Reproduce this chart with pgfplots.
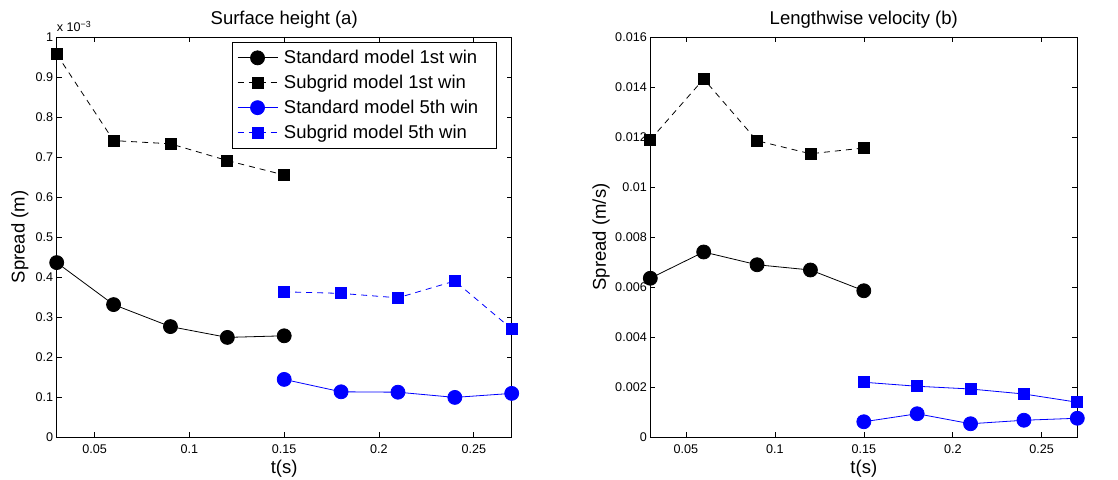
\documentclass[border=0pt]{standalone}
\usepackage{fontspec}
\setmainfont{Liberation Sans}
\usepackage{pgfplots}
\pgfplotsset{compat=1.18}
\definecolor{mblue}{RGB}{0,0,255}
\begin{document}
\begin{tikzpicture}
\path[use as bounding box] (0pt,0pt) rectangle (1118pt,479pt);
\pgfplotsset{
  mystyle/.style={
    scale only axis, height=400pt,
    xmin=0.03, xmax=0.27,
    xtick={0.05,0.1,0.15,0.2,0.25},
    xticklabels={0.05,0.1,0.15,0.2,0.25},
    tick align=inside,
    major tick length=5pt,
    tick style={black, line width=0.6pt},
    axis line style={line width=0.8pt},
    ticklabel style={font=\fontsize{12.6}{14}\selectfont},
    xticklabel style={yshift=-4pt},
    /pgf/number format/assume math mode=true,
    every axis title/.style={font=\fontsize{18.5}{22}\selectfont, at={(axis description cs:0.5,1.0425)}, anchor=center},
    scaled ticks=false,
    every axis x label/.style={at={(axis description cs:0.5,-0.08)}, anchor=center, font=\fontsize{18.5}{22}\selectfont},
    clip=false,
    every axis plot/.append style={line width=0.8pt},
    legend image code/.code={\draw[mark repeat=2,mark phase=2,##1] plot coordinates {(0pt,0pt) (20pt,0pt) (40pt,0pt)};},
  },
  circ/.style={mark=*, mark size=7pt, mark options={solid}},
  sq/.style={mark=square*, mark size=5.5pt, mark options={solid}},
  mydash/.style={dash pattern=on 6pt off 5pt},
}
\begin{axis}[mystyle, width=455pt, at={(56.7pt,42pt)}, anchor=south west,
  ymin=0, ymax=1, ytick={0,0.1,0.2,0.3,0.4,0.5,0.6,0.7,0.8,0.9,1},
  yticklabels={0,0.1,0.2,0.3,0.4,0.5,0.6,0.7,0.8,0.9,1},
  title={Surface height (a)}, xlabel={t(s)}, ylabel={Spread (m)},
  every axis y label/.style={at={(axis description cs:-0.081,0.5)}, rotate=90, anchor=center, font=\fontsize{18.5}{22}\selectfont},
  legend style={at={(axis description cs:1,1)}, anchor=north east, xshift=-15pt, yshift=-5pt,
    font=\fontsize{18.5}{22}\selectfont, draw=black, line width=0.8pt, legend cell align=left,
    inner xsep=5pt, inner ysep=6pt, row sep=6pt,
    /tikz/every odd column/.append style={column sep=4pt}},
]
\addplot[black, circ] coordinates {(0.03,0.436) (0.06,0.331) (0.09,0.276) (0.12,0.249) (0.15,0.253)};
\addlegendentry{Standard model 1st win\rule{11pt}{0pt}}
\addplot[black, sq, mydash] coordinates {(0.03,0.957) (0.06,0.741) (0.09,0.733) (0.12,0.691) (0.15,0.655)};
\addlegendentry{Subgrid model 1st win}
\addplot[mblue, circ] coordinates {(0.15,0.144) (0.18,0.113) (0.21,0.112) (0.24,0.099) (0.27,0.109)};
\addlegendentry{Standard model 5th win\rule{11pt}{0pt}}
\addplot[mblue, sq, mydash] coordinates {(0.15,0.363) (0.18,0.359) (0.21,0.348) (0.24,0.390) (0.27,0.270)};
\addlegendentry{Subgrid model 5th win}
\node[anchor=base west, font=\fontsize{12.6}{14}\selectfont, inner sep=0pt] at ([yshift=5pt]axis description cs:0,1) {x 10\textsuperscript{−3}};
\end{axis}
\begin{axis}[mystyle, width=427pt, at={(650.3pt,42pt)}, anchor=south west,
  ymin=0, ymax=0.016, ytick={0,0.002,0.004,0.006,0.008,0.01,0.012,0.014,0.016},
  yticklabels={0,0.002,0.004,0.006,0.008,0.01,0.012,0.014,0.016},
  title={Lengthwise velocity (b)}, xlabel={t(s)}, ylabel={Spread (m/s)},
  every axis y label/.style={at={(axis description cs:-0.1155,0.5)}, rotate=90, anchor=center, font=\fontsize{18.5}{22}\selectfont},
]
\addplot[black, sq, mydash] coordinates {(0.03,0.01189) (0.06,0.01432) (0.09,0.01185) (0.12,0.01133) (0.15,0.01156)};
\addplot[black, circ] coordinates {(0.03,0.00635) (0.06,0.0074) (0.09,0.00689) (0.12,0.00668) (0.15,0.00585)};
\addplot[mblue, sq] coordinates {(0.15,0.00219) (0.18,0.00203) (0.21,0.00192) (0.24,0.00172) (0.27,0.00139)};
\addplot[mblue, circ] coordinates {(0.15,0.00061) (0.18,0.00093) (0.21,0.00053) (0.24,0.00067) (0.27,0.00075)};
\end{axis}
\end{tikzpicture}
\end{document}
